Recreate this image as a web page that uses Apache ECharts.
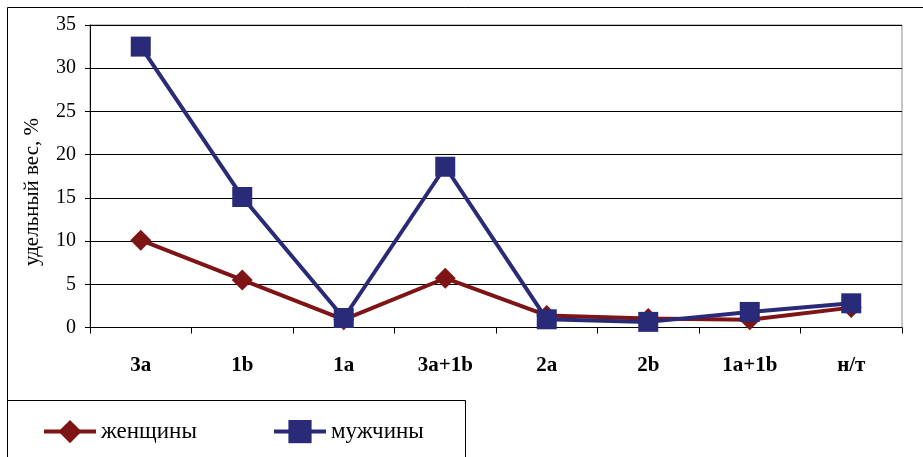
<!DOCTYPE html>
<html>
<head>
<meta charset="utf-8">
<script src="https://cdn.jsdelivr.net/npm/echarts@6/dist/echarts.min.js"></script>
<style>
  html, body { margin: 0; padding: 0; background: #fff; }
  #chart { width: 923px; height: 457px; }
</style>
</head>
<body>
<div id="chart"></div>
<script>
// Categories along the horizontal axis
const categories = ['3a', '1b', '1a', '3a+1b', '2a', '2b', '1a+1b', 'н/т'];
// Share, % — women
const women = [10.1, 5.5, 0.9, 5.7, 1.4, 1.05, 0.9, 2.3];
// Share, % — men
const men = [32.5, 15.1, 1.1, 18.6, 0.95, 0.65, 1.8, 2.8];
// Series names
const seriesNames = ['женщины', 'мужчины'];
const yTitle = 'удельный вес, %';

const FONT = "'Liberation Serif', 'Times New Roman', serif";
const WOMEN_COLOR = '#7f1416';
const MEN_COLOR = '#2a2b78';

const chart = echarts.init(document.getElementById('chart'), null, { renderer: 'canvas' });

function legendItem(name, left, color) {
  return {
    data: [name], left: left, top: 415,
    itemWidth: 52, itemHeight: 29, itemGap: 0,
    lineStyle: { width: 4, color: color },
    textStyle: { fontFamily: FONT, fontSize: 23, color: '#000', padding: [0, 0, 0, 0] }
  };
}

chart.setOption({
  animation: false,
  backgroundColor: '#fff',
  grid: {
    left: 90, right: 21, top: 25, bottom: 129.5,
    show: true, borderColor: '#8c8c8c', borderWidth: 1, backgroundColor: 'transparent'
  },
  xAxis: {
    type: 'category',
    data: categories,
    boundaryGap: true,
    axisLine: { lineStyle: { color: '#000', width: 1 } },
    axisTick: { show: true, length: 6, lineStyle: { color: '#000' } },
    axisLabel: { color: '#000', fontFamily: FONT, fontSize: 21, fontWeight: 'bold', margin: 28 },
    splitLine: { show: false }
  },
  yAxis: {
    type: 'value',
    min: 0, max: 35, interval: 5,
    axisLine: { show: true, lineStyle: { color: '#000', width: 1 } },
    axisTick: { show: true, length: 5, lineStyle: { color: '#000' } },
    axisLabel: { color: '#000', fontFamily: FONT, fontSize: 20, margin: 14 },
    splitLine: { show: true, lineStyle: { color: '#000', width: 1 } }
  },
  legend: [
    legendItem(seriesNames[0], 37, WOMEN_COLOR),
    legendItem(seriesNames[1], 267, MEN_COLOR)
  ],
  graphic: [
    {
      type: 'rect', silent: true, z: -1,
      shape: { x: 7.5, y: 7.5, width: 930, height: 470 },
      style: { fill: 'none', stroke: '#000', lineWidth: 1 }
    },
    {
      type: 'rect', silent: true, z: -1,
      shape: { x: 7.5, y: 400.5, width: 458, height: 70 },
      style: { fill: 'none', stroke: '#000', lineWidth: 1 }
    },
    {
      type: 'text', silent: true,
      x: 32, y: 192, rotation: Math.PI / 2,
      style: {
        text: yTitle, fontFamily: FONT, fontSize: 21, fill: '#000',
        align: 'center', verticalAlign: 'middle'
      }
    }
  ],
  series: [
    {
      name: seriesNames[0], type: 'line', data: women,
      symbol: 'diamond', symbolSize: 21,
      lineStyle: { color: WOMEN_COLOR, width: 4 },
      itemStyle: { color: WOMEN_COLOR },
      z: 2
    },
    {
      name: seriesNames[1], type: 'line', data: men,
      symbol: 'rect', symbolSize: 20,
      lineStyle: { color: MEN_COLOR, width: 4 },
      itemStyle: { color: MEN_COLOR },
      z: 3
    }
  ]
});
</script>
</body>
</html>
